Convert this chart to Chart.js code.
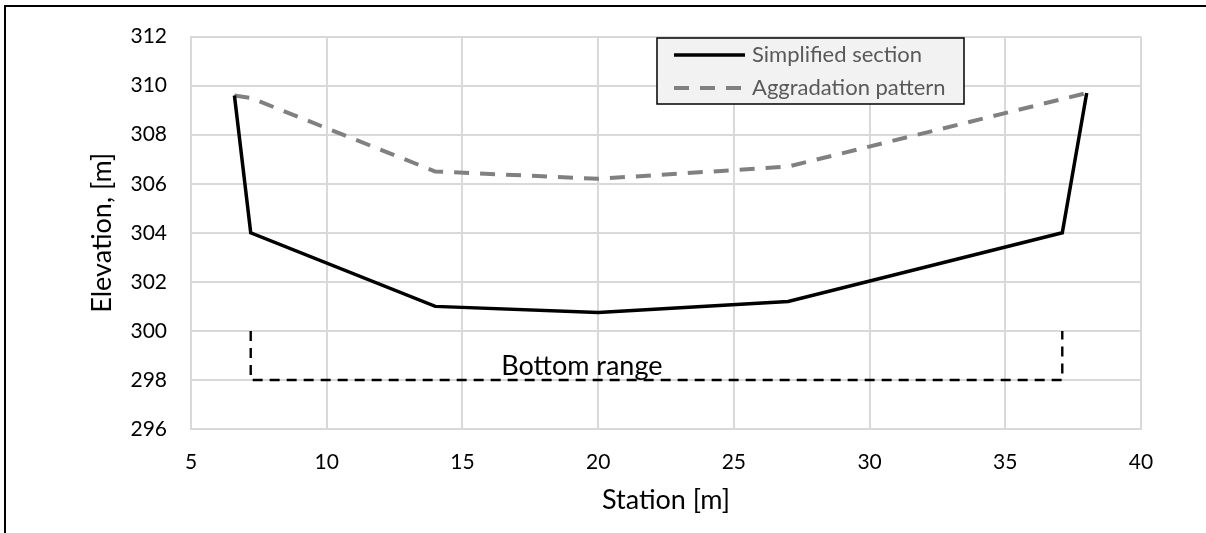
<!DOCTYPE html>
<html>
<head>
<meta charset="utf-8">
<script src="https://cdn.jsdelivr.net/npm/chart.js@4/dist/chart.umd.min.js"></script>
<style>
  body { margin: 0; background: #fff; }
  #wrap { position: relative; width: 1206px; height: 533px; overflow: hidden; }
  #frame {
    position: absolute; left: 4px; top: 5px; width: 1220px; height: 560px;
    border-left: 2px solid #000; border-top: 2px solid #000;
  }
  #chart { position: absolute; left: 0; top: 0; }
</style>
</head>
<body>
<div id="wrap">
  <div id="frame"></div>
  <canvas id="chart" width="1206" height="533"></canvas>
</div>
<script>
/* ================= DATA ================= */

const sectionStation = [6.6, 7.2, 14, 20, 27, 37.1, 38];
const sectionElev = [309.6, 304, 301, 300.75, 301.2, 304, 309.7];

const aggrStation = [6.6, 7.2, 14, 20, 27, 38];
const aggrElev = [309.6, 309.5, 306.5, 306.2, 306.7, 309.7];

const bottomStation = [7.2, 7.2, 37.1, 37.1];
const bottomElev = [300, 298, 298, 300];

const bottomLabel = { text: "Bottom range", x: 19.4, y: 298 };

const xTicks = [5, 10, 15, 20, 25, 30, 35, 40];
const yTicks = [296, 298, 300, 302, 304, 306, 308, 310, 312];

const seriesNames = ["Simplified section", "Aggradation pattern"];

const FONT = "Lato, 'Open Sans', sans-serif";

function toPoints(xs, ys) {
  return xs.map((x, i) => ({ x: x, y: ys[i] }));
}

/* ================= PLUGINS ================= */

// text label over the bottom range line
const bottomLabelPlugin = {
  id: "bottomLabel",
  afterDatasetsDraw(chart) {
    const { ctx, scales } = chart;
    ctx.save();
    ctx.font = "27px " + FONT;
    ctx.fillStyle = "#000";
    ctx.textAlign = "center";
    ctx.textBaseline = "alphabetic";
    ctx.fillText(bottomLabel.text,
      scales.x.getPixelForValue(bottomLabel.x),
      scales.y.getPixelForValue(bottomLabel.y) - 5);
    ctx.restore();
  }
};

// boxed legend inside the plot, like the spreadsheet one
const boxLegendPlugin = {
  id: "boxLegend",
  afterDraw(chart) {
    const { ctx } = chart;
    const bx = 657, by = 38, bw = 307, bh = 66;
    ctx.save();
    ctx.fillStyle = "#f2f2f2";
    ctx.fillRect(bx, by, bw, bh);
    ctx.strokeStyle = "#000";
    ctx.lineWidth = 1.5;
    ctx.strokeRect(bx, by, bw, bh);

    ctx.font = "22px " + FONT;
    ctx.textBaseline = "middle";
    ctx.textAlign = "left";

    [0, 1].forEach(i => {
      const ds = chart.data.datasets[i];
      const rowY = by + 17 + i * 33;
      ctx.beginPath();
      ctx.setLineDash(ds.borderDash || []);
      ctx.strokeStyle = ds.borderColor;
      ctx.lineWidth = ds.borderWidth;
      ctx.moveTo(674, rowY);
      ctx.lineTo(745, rowY);
      ctx.stroke();
      ctx.setLineDash([]);
      ctx.fillStyle = "#595959";
      ctx.fillText(seriesNames[i], 752, rowY);
    });
    ctx.restore();
  }
};

/* ================= CHART ================= */

new Chart(document.getElementById("chart"), {
  type: "scatter",
  data: {
    datasets: [
      {
        label: seriesNames[0],
        data: toPoints(sectionStation, sectionElev),
        showLine: true,
        borderColor: "#000",
        borderWidth: 3.5,
        pointRadius: 0,
        tension: 0
      },
      {
        label: seriesNames[1],
        data: toPoints(aggrStation, aggrElev),
        showLine: true,
        borderColor: "#808080",
        borderWidth: 4,
        borderDash: [15, 11],
        pointRadius: 0,
        tension: 0
      },
      {
        label: "Bottom range",
        data: toPoints(bottomStation, bottomElev),
        showLine: true,
        borderColor: "#000",
        borderWidth: 2.4,
        borderDash: [10, 7],
        pointRadius: 0,
        tension: 0
      }
    ]
  },
  options: {
    responsive: false,
    animation: false,
    layout: { padding: { left: 0, right: 65, top: 33, bottom: 0 } },
    plugins: {
      legend: { display: false },
      tooltip: { enabled: false }
    },
    scales: {
      x: {
        type: "linear",
        min: xTicks[0],
        max: xTicks[xTicks.length - 1],
        afterBuildTicks(scale) { scale.ticks = xTicks.map(v => ({ value: v })); },
        afterFit(scale) { scale.height = 104; },
        grid: { color: "#d9d9d9", lineWidth: 2, drawTicks: false },
        border: { color: "#d9d9d9", width: 2 },
        ticks: { color: "#000", padding: 21, font: { family: FONT, size: 21 } },
        title: {
          display: true,
          text: "Station [m]",
          color: "#000",
          font: { family: FONT, size: 27 },
          padding: { top: 0, bottom: 17 }
        }
      },
      y: {
        type: "linear",
        min: yTicks[0],
        max: yTicks[yTicks.length - 1],
        afterBuildTicks(scale) { scale.ticks = yTicks.map(v => ({ value: v })); },
        afterFit(scale) { scale.width = 191; },
        grid: { color: "#d9d9d9", lineWidth: 2, drawTicks: false },
        border: { color: "#d9d9d9", width: 2 },
        ticks: { color: "#000", padding: 24, font: { family: FONT, size: 21 } },
        title: {
          display: true,
          text: "Elevation, [m]",
          color: "#000",
          font: { family: FONT, size: 27 },
          padding: { top: 86, bottom: 0 }
        }
      }
    }
  },
  plugins: [bottomLabelPlugin, boxLegendPlugin]
});
</script>
</body>
</html>
